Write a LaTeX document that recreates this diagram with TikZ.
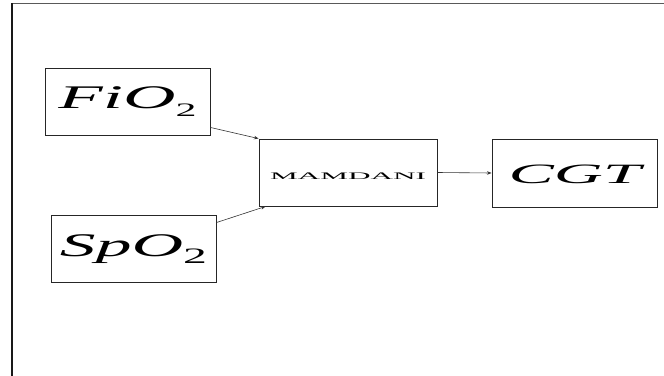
\documentclass[tikz,border=0pt]{standalone}
\usepackage{fontspec}
\setmainfont{Liberation Serif}
\usetikzlibrary{calc,arrows.meta}

% text set on its baseline at a given offset from the node centre,
% stretched horizontally to a given width
\newcommand{\wlabel}[3]{\raisebox{#1}[0pt][0pt]{\resizebox{#2}{\height}{#3}}}

\tikzset{
  blockbox/.style={draw=black!85, line width=0.9pt, rectangle, inner sep=0pt},
  link/.style={draw=black!80, line width=0.6pt, -{Stealth[length=4.5pt,width=3.5pt]}},
  framerule/.style={line cap=rect}
}

\begin{document}
\begin{tikzpicture}[x=1pt,y=-1pt]
\useasboundingbox (0,0) rectangle (664,375);

% outer frame (top and left edges)
\coordinate (frameTL) at (12,3.5);
\coordinate (frameTR) at (664,3.5);
\coordinate (frameBL) at (12,375);
\draw[framerule, black!65, line width=1.4pt] (frameTL) -- (frameTR);
\draw[framerule, black!90, line width=2pt] (frameTL) -- (frameBL);

% blocks
\node[blockbox, minimum width=165pt, minimum height=67pt] (fio) at (127.5,101.5)
  {\wlabel{-6.5pt}{138pt}{\fontsize{33}{33}\selectfont\itshape FiO\raisebox{-8pt}{\fontsize{19}{19}\selectfont\upshape 2}}};
\node[blockbox, minimum width=165pt, minimum height=67pt] (spo) at (133.5,248.5)
  {\wlabel{-7.5pt}{147pt}{\fontsize{33}{33}\selectfont\itshape SpO\raisebox{-7pt}{\fontsize{22}{22}\selectfont\upshape 2}}};
\node[blockbox, minimum width=178pt, minimum height=67pt] (mam) at (348,172.5)
  {\wlabel{-6.8pt}{156pt}{\fontsize{10}{10}\selectfont MAMDANI}};
\node[blockbox, minimum width=165pt, minimum height=68pt] (cgt) at (574.5,173)
  {\wlabel{-10pt}{132pt}{\fontsize{28}{28}\selectfont\itshape CGT}};

% connectors
\draw[link] ($(fio.south east)+(0,-8)$) -- (mam.north west);
\draw[link] ($(spo.north east)+(0,8)$) -- ($(mam.south west)+(7,0)$);
\draw[link] (mam.east) -- (cgt.west);
\end{tikzpicture}
\end{document}
